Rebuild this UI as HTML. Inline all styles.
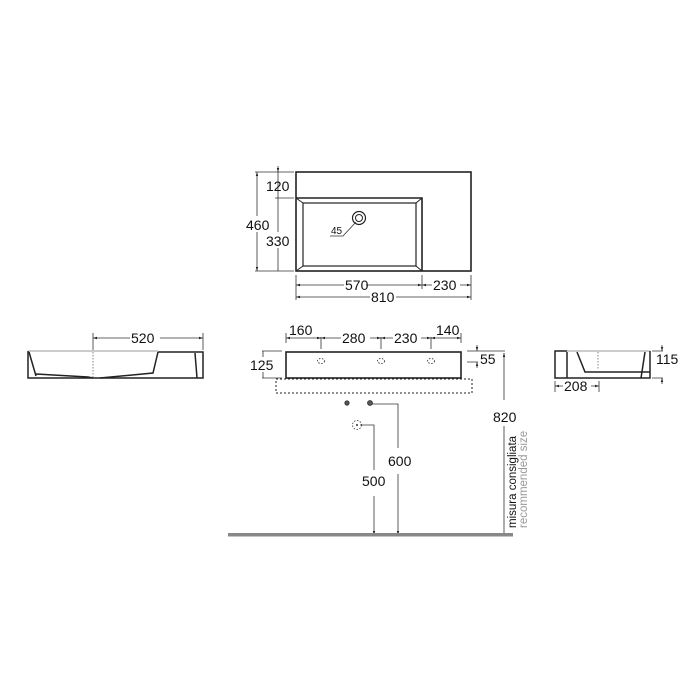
<!DOCTYPE html>
<html><head><meta charset="utf-8"><style>
html,body{margin:0;padding:0;background:#fff;}
svg{display:block;}
text{font-family:"Liberation Sans",Arial,sans-serif;font-size:14px;fill:#111;}
</style></head><body>
<svg width="700" height="700" viewBox="0 0 700 700">
<defs>
<marker id="a" viewBox="0 0 10 10" refX="10" refY="5" markerWidth="5" markerHeight="5" orient="auto-start-reverse"><path d="M0,2 L10,5 L0,8z" fill="#222"/></marker>
</defs>
<g stroke="#222" fill="none" stroke-width="1.6">
<!-- top view -->
<rect x="296" y="172" width="175" height="99"/>
<path d="M296,198 H422 V271"/>
<rect x="303" y="203" width="113" height="63" stroke-width="1.2"/>
<path d="M296,198 L303,203 M422,198 L416,203 M296,271 L303,266 M422,271 L416,266" stroke-width="1"/>
<circle cx="359" cy="218" r="6.5" stroke-width="1.2"/><circle cx="359" cy="218" r="3.5" stroke-width="1"/>
</g>
<g stroke="#333" fill="none" stroke-width="0.8">
<path d="M330,236 H343 L356,222"/>
<path d="M255,172 H294 M275,198 H294 M255,271 H294"/>
<path d="M257,172 V271" marker-start="url(#a)" marker-end="url(#a)"/>
<path d="M278,172 V198 M278,198 V271"/>
<path d="M278,166 V172" marker-end="url(#a)"/>
<path d="M296,275 V300 M422,275 V289 M471,275 V300"/>
<path d="M296,285 H422" marker-start="url(#a)" marker-end="url(#a)"/>
<path d="M422,285 H471" marker-start="url(#a)" marker-end="url(#a)"/>
<path d="M296,297 H471" marker-start="url(#a)" marker-end="url(#a)"/>
</g>
<g fill="#fff">
<rect x="344" y="278" width="22" height="14"/><rect x="432" y="278" width="28" height="14"/><rect x="370" y="290" width="26" height="14"/>
<rect x="246" y="216" width="26" height="16"/><rect x="265" y="232" width="27" height="16"/>
</g>
<text x="266" y="191">120</text>
<text x="246" y="230">460</text>
<text x="266" y="246">330</text>
<text x="331" y="234" style="font-size:10px">45</text>
<text x="345" y="290">570</text>
<text x="433" y="290">230</text>
<text x="371" y="302">810</text>

<!-- front view -->
<g stroke="#222" fill="none">
<rect x="286" y="352" width="175" height="26" stroke-width="1.6"/>
<rect x="276" y="379" width="196" height="14" stroke-width="1" stroke-dasharray="2,2"/>
<g stroke-width="0.8" stroke-dasharray="1.5,1.5"><ellipse cx="321" cy="361" rx="3.5" ry="2.5"/><ellipse cx="381" cy="361" rx="3.5" ry="2.5"/><ellipse cx="431" cy="361" rx="3.5" ry="2.5"/></g>
</g>
<g stroke="#333" fill="none" stroke-width="0.8">
<path d="M286,333 V343 M321,337 V349 M381,337 V349 M431,337 V349 M461,333 V343"/>
<path d="M286,338 H321" marker-start="url(#a)" marker-end="url(#a)"/>
<path d="M321,338 H381" marker-start="url(#a)" marker-end="url(#a)"/>
<path d="M381,338 H431" marker-start="url(#a)" marker-end="url(#a)"/>
<path d="M431,338 H461" marker-start="url(#a)" marker-end="url(#a)"/>
<path d="M262,351 H282 M262,378 H282"/>
<path d="M263,351 V357 M263,372 V378"/>
<path d="M467,351 H505 M467,362 H478"/>
<path d="M477,345 V351" marker-end="url(#a)"/><path d="M477,368 V362" marker-end="url(#a)"/>
<path d="M504,535 V353" marker-end="url(#a)"/>
<path d="M370,404 H398 V535" marker-end="url(#a)"/>
<path d="M360,425 H374 V535" marker-end="url(#a)"/>
</g>
<g fill="#fff"><rect x="290" y="330" width="0" height="0"/><rect x="341" y="330" width="29" height="14"/><rect x="393" y="330" width="28" height="14"/><rect x="388" y="448" width="22" height="26"/><rect x="363" y="470" width="22" height="26"/><rect x="495" y="400" width="20" height="26"/></g>
<text x="289" y="335">160</text>
<text x="342" y="343">280</text>
<text x="394" y="343">230</text>
<text x="436" y="335">140</text>
<text x="250" y="370">125</text>
<text x="480" y="364">55</text>
<text x="493" y="422">820</text>
<text x="388" y="466">600</text>
<text x="362" y="486">500</text>
<g fill="#555" stroke="#333" stroke-width="0.8">
<circle cx="347" cy="403" r="2.2"/><circle cx="370" cy="403" r="2.5"/>
</g>
<circle cx="357" cy="425" r="4.5" fill="none" stroke="#333" stroke-width="0.8" stroke-dasharray="1.5,1.5"/>
<circle cx="357" cy="425" r="1" fill="#333"/>
<text transform="translate(516,528) rotate(-90)" style="font-size:11.5px">misura consigliata</text>
<text transform="translate(527,528) rotate(-90)" style="font-size:11.5px;fill:#999">recommended size</text>
<rect x="228" y="533" width="285" height="3.5" fill="#888"/>

<!-- left side view -->
<g stroke="#222" fill="none">
<path d="M28,351 H158" stroke="#999" stroke-width="1"/>
<path d="M158,352 H203 V378 H28 V351" stroke-width="1.5"/>
<path d="M29,352 L36,376 M36,374 L88,377 L93,378 M100,378 L153,373 L158,352 M195,353 L197,378" stroke-width="1.5"/>
<path d="M93,352 V378" stroke="#666" stroke-width="0.8" stroke-dasharray="1.5,1.5"/>
</g>
<g stroke="#333" fill="none" stroke-width="0.8">
<path d="M93,333 V350 M203,333 V350"/>
<path d="M93,338 H203" marker-start="url(#a)" marker-end="url(#a)"/>
</g>
<rect x="130" y="330" width="30" height="14" fill="#fff"/>
<text x="131" y="343">520</text>

<!-- right side view -->
<g stroke="#222" fill="none">
<path d="M567,351 H650" stroke="#999" stroke-width="1"/>
<path d="M567,351 H555 V378 H650 V351" stroke-width="1.5"/>
<path d="M567,352 V378 M577,352 L585,372 H650 M645,352 L641,378" stroke-width="1.5"/>
<path d="M598,352 V370" stroke="#666" stroke-width="0.8" stroke-dasharray="1.5,1.5"/>
</g>
<g stroke="#333" fill="none" stroke-width="0.8">
<path d="M652,351 H663 M652,378 H663"/>
<path d="M662,345 V351" marker-end="url(#a)"/><path d="M662,384 V378" marker-end="url(#a)"/>
<path d="M555,381 V392 M599,381 V392"/>
<path d="M555,386 H599" marker-start="url(#a)" marker-end="url(#a)"/>
</g>
<rect x="563" y="379" width="28" height="14" fill="#fff"/>
<text x="656" y="364">115</text>
<text x="564" y="391">208</text>
</svg>
</body></html>
